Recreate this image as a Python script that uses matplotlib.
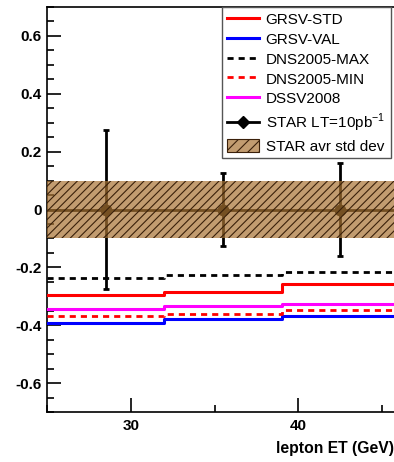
import matplotlib
matplotlib.use("Agg")
import matplotlib.pyplot as plt
import numpy as np
from matplotlib.patches import Patch
from matplotlib.lines import Line2D
from matplotlib.ticker import MultipleLocator

plt.rcParams['font.family'] = ['Liberation Sans', 'DejaVu Sans']
plt.rcParams['mathtext.fontset'] = 'custom'
plt.rcParams['mathtext.rm'] = 'Liberation Sans'
plt.rcParams['hatch.color'] = '#3a200a'
plt.rcParams['hatch.linewidth'] = 0.8

bin_edges = [25, 32, 39, 46]
grsv_std = [-0.295, -0.284, -0.258]
grsv_val = [-0.391, -0.380, -0.367]
dns_max = [-0.236, -0.228, -0.217]
dns_min = [-0.368, -0.361, -0.347]
dssv = [-0.344, -0.333, -0.328]
star_x = [28.5, 35.5, 42.5]
star_y = [0.0, 0.0, 0.0]
star_err = [0.275, 0.125, 0.16]
band_half = 0.1

band_face = (0.66, 0.45, 0.20, 0.7)

fig = plt.figure(figsize=(3.94, 4.62), dpi=100)
ax = fig.add_axes([47/394, 1 - 412/462, (399 - 47)/394, (412 - 7)/462])

def step(vals):
    return np.append(vals, vals[-1])

ax.step(bin_edges, step(grsv_std), where='post', color='#ff0000', lw=2.2, zorder=3)
ax.step(bin_edges, step(grsv_val), where='post', color='#0000ff', lw=2.2, zorder=3)
ax.step(bin_edges, step(dns_max), where='post', color='black', lw=2, ls=(0, (2.2, 1.8)), zorder=3)
ax.step(bin_edges, step(dns_min), where='post', color='#ff0000', lw=2, ls=(0, (2.2, 1.8)), zorder=3)
ax.step(bin_edges, step(dssv), where='post', color='#ff00ff', lw=2.2, zorder=3)

ax.errorbar(star_x, star_y, yerr=star_err, fmt='o', color='black', ms=7.5,
            elinewidth=2, capsize=2.2, capthick=2, zorder=2)
ax.plot([bin_edges[0], bin_edges[-1]], [0, 0], color='black', lw=2, zorder=2)

ax.fill_between([bin_edges[0], bin_edges[-1]], -band_half, band_half,
                facecolor=band_face, edgecolor='#3a200a',
                hatch='////', lw=0, zorder=4)

ax.set_xlim(25, 46)
ax.set_ylim(-0.7, 0.7)
ax.xaxis.set_major_locator(MultipleLocator(10))
ax.xaxis.set_minor_locator(MultipleLocator(5))
ax.yaxis.set_minor_locator(MultipleLocator(0.05))
ax.set_yticks([-0.6, -0.4, -0.2, 0, 0.2, 0.4, 0.6])
ax.set_yticklabels(['-0.6', '-0.4', '-0.2', '0', '0.2', '0.4', '0.6'])
ax.tick_params(which='both', direction='in', top=False, right=False, width=1.2)
ax.tick_params(which='major', length=10, labelsize=11)
ax.tick_params(axis='y', which='major', pad=4)
ax.tick_params(axis='x', which='major', pad=5)
ax.tick_params(which='minor', length=5)
for lab in ax.get_xticklabels() + ax.get_yticklabels():
    lab.set_fontweight('bold')
for s in ax.spines.values():
    s.set_linewidth(1.2)

fig.text(394/394, 1 - 448/462, 'lepton ET (GeV)', ha='right', va='center',
         fontsize=11.3, fontweight='bold')

handles = [
    Line2D([], [], color='#ff0000', lw=2.2),
    Line2D([], [], color='#0000ff', lw=2.2),
    Line2D([], [], color='black', lw=2, ls=(0, (2.2, 1.8))),
    Line2D([], [], color='#ff0000', lw=2, ls=(0, (2.2, 1.8))),
    Line2D([], [], color='#ff00ff', lw=2.2),
    Line2D([], [], color='black', lw=2, marker='D', ms=6),
    Patch(facecolor=band_face, edgecolor='#3a200a', hatch='///', lw=0.8),
]
labels = ['GRSV-STD', 'GRSV-VAL', 'DNS2005-MAX', 'DNS2005-MIN', 'DSSV2008',
          'STAR LT=10pb$^{\\mathregular{-1}}$', 'STAR avr std dev']
leg = fig.legend(handles, labels, loc='upper left',
                 bbox_to_anchor=(222/394, 1 - 158/462, (391 - 222)/394, (158 - 7)/462),
                 mode='expand', fontsize=11, frameon=True, fancybox=False,
                 edgecolor='#555555', framealpha=1, borderpad=0.3,
                 labelspacing=0.32, handlelength=2.1, handleheight=1.0,
                 handletextpad=0.45, borderaxespad=0)
leg.get_frame().set_linewidth(1.0)

fig.savefig('out.png', dpi=100)
